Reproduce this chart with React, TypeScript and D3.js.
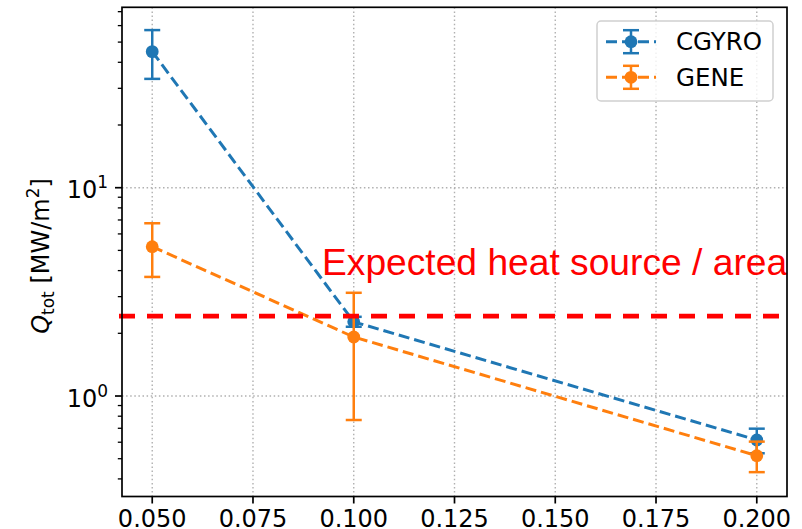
import React from "react";
import * as d3 from "d3";

const xValues = [0.05, 0.1, 0.2];
const cgyroValues = [45.0, 2.27, 0.615];
const cgyroLow = [33.3, 2.15, 0.531];
const cgyroHigh = [57.1, 2.4, 0.697];
const geneValues = [5.21, 1.92, 0.517];
const geneLow = [3.73, 0.767, 0.431];
const geneHigh = [6.75, 3.13, 0.604];
const heatSource = 2.42;
const xTicks = [0.05, 0.075, 0.1, 0.125, 0.15, 0.175, 0.2];
const yMajorTicks = [1, 10];
const yMinorTicks = [0.4, 0.5, 0.6, 0.7, 0.8, 0.9, 2, 3, 4, 5, 6, 7, 8, 9, 20, 30, 40, 50, 60, 70];
const seriesNames = ["CGYRO", "GENE"];
const seriesColors = ["#1f77b4", "#ff7f0e"];

const W = 802;
const H = 529;
const left = 122;
const right = 787;
const top = 7.3;
const bottom = 496.5;

export default function App() {
  const x = d3.scaleLinear().domain([0.0425, 0.2075]).range([left, right]);
  const y = d3.scaleLog().domain([0.3293, 73.46]).range([bottom, top]);
  const font = "'DejaVu Sans', sans-serif";

  const series = [
    { name: seriesNames[0], color: seriesColors[0], v: cgyroValues, lo: cgyroLow, hi: cgyroHigh },
    { name: seriesNames[1], color: seriesColors[1], v: geneValues, lo: geneLow, hi: geneHigh },
  ];

  const line = d3
    .line<number>()
    .x((_, i) => x(xValues[i]))
    .y((d) => y(d));

  const cap = 8;

  return (
    <svg width={W} height={H} style={{ position: "absolute", left: 0, top: 0, background: "#fff" }}>
      {/* grid */}
      <g stroke="#b0b0b0" strokeWidth={1.4} strokeDasharray="1.5,2.6">
        {xTicks.map((t) => (
          <line key={"gx" + t} x1={x(t)} x2={x(t)} y1={top} y2={bottom} />
        ))}
        {yMajorTicks.map((t) => (
          <line key={"gy" + t} x1={left} x2={right} y1={y(t)} y2={y(t)} />
        ))}
      </g>

      {/* series */}
      {series.map((s) => (
        <g key={s.name}>
          <path d={line(s.v) || ""} fill="none" stroke={s.color} strokeWidth={3} strokeDasharray="11,5" />
          {s.v.map((v, i) => {
            const cx = x(xValues[i]);
            return (
              <g key={i} stroke={s.color} strokeWidth={2.5}>
                <line x1={cx} x2={cx} y1={y(s.lo[i])} y2={y(s.hi[i])} />
                <line x1={cx - cap} x2={cx + cap} y1={y(s.lo[i])} y2={y(s.lo[i])} />
                <line x1={cx - cap} x2={cx + cap} y1={y(s.hi[i])} y2={y(s.hi[i])} />
                <circle cx={cx} cy={y(v)} r={6.4} fill={s.color} stroke="none" />
              </g>
            );
          })}
        </g>
      ))}

      {/* expected heat source line */}
      <line
        x1={119}
        x2={779}
        y1={y(heatSource)}
        y2={y(heatSource)}
        stroke="#ff0000"
        strokeWidth={4.7}
        strokeDasharray="16,12"
      />
      <text
        x={322}
        y={275}
        fill="#ff0000"
        fontFamily="'Liberation Sans', Arial, sans-serif"
        fontSize={37.2}
      >
        Expected heat source / area
      </text>

      {/* spines */}
      <rect x={left} y={top} width={right - left} height={bottom - top} fill="none" stroke="#000" strokeWidth={1.7} />

      {/* x ticks */}
      {xTicks.map((t) => (
        <g key={"xt" + t}>
          <line x1={x(t)} x2={x(t)} y1={bottom} y2={bottom + 7} stroke="#000" strokeWidth={1.7} />
          <text x={x(t)} y={526.5} textAnchor="middle" fontFamily={font} fontSize={24} fill="#000">
            {d3.format(".3f")(t)}
          </text>
        </g>
      ))}

      {/* y ticks */}
      {yMinorTicks.map((t) => (
        <line key={"ym" + t} x1={left - 4.2} x2={left} y1={y(t)} y2={y(t)} stroke="#000" strokeWidth={1.3} />
      ))}
      {yMajorTicks.map((t) => (
        <g key={"yt" + t}>
          <line x1={left - 7} x2={left} y1={y(t)} y2={y(t)} stroke="#000" strokeWidth={1.7} />
          <text x={108} y={y(t) + 10.6} textAnchor="end" fontFamily={font} fontSize={24} fill="#000">
            10
            <tspan dy={-10} fontSize={17}>
              {Math.round(Math.log10(t))}
            </tspan>
          </text>
        </g>
      ))}

      {/* y label */}
      <text
        transform={`translate(49,256) rotate(-90)`}
        textAnchor="middle"
        fontFamily={font}
        fontSize={24}
        fill="#000"
      >
        <tspan fontStyle="italic">Q</tspan>
        <tspan fontSize={17} dy={5}>tot</tspan>
        <tspan dy={-5}> [MW/m</tspan>
        <tspan fontSize={17} dy={-10}>2</tspan>
        <tspan dy={10}>]</tspan>
      </text>

      {/* legend */}
      <rect x={597} y={21} width={176} height={80} rx={4} fill="#fff" fillOpacity={0.8} stroke="#d0d0d0" strokeWidth={1.5} />
      {series.map((s, i) => {
        const ly = 41.7 + i * 35.6;
        return (
          <g key={"lg" + s.name}>
            <line x1={606} x2={656} y1={ly} y2={ly} stroke={s.color} strokeWidth={3} strokeDasharray="11,5" />
            <g stroke={s.color} strokeWidth={2.5}>
              <line x1={631} x2={631} y1={ly - 11.5} y2={ly + 11.5} />
              <line x1={631 - cap} x2={631 + cap} y1={ly - 11.5} y2={ly - 11.5} />
              <line x1={631 - cap} x2={631 + cap} y1={ly + 11.5} y2={ly + 11.5} />
            </g>
            <circle cx={631} cy={ly} r={6.4} fill={s.color} />
            <text x={676} y={ly + 8.5} fontFamily={font} fontSize={24.5} fill="#000">
              {s.name}
            </text>
          </g>
        );
      })}
    </svg>
  );
}
